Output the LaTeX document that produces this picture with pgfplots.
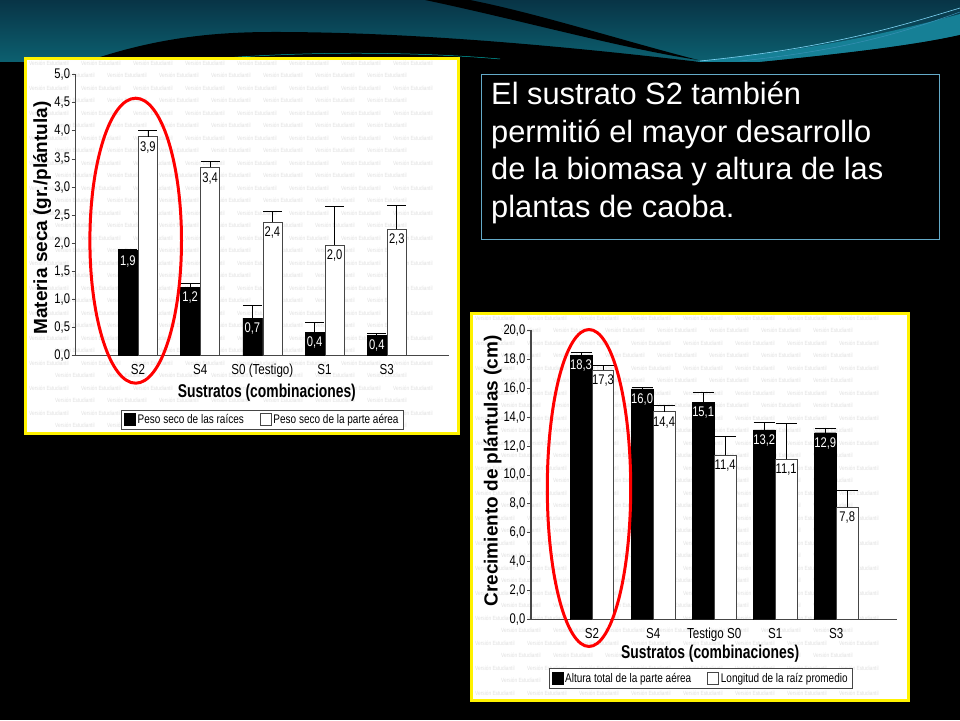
\documentclass[border=0pt]{standalone}
\usepackage{pgfplots}
\usepackage{pgfplotstable}
\pgfplotsset{compat=1.18}
\usepackage{fontspec}
\setmainfont{Liberation Sans}
\newfontfamily\cf[FakeStretch=0.8]{Liberation Sans}
\newfontfamily\cfx[FakeStretch=0.75]{Liberation Sans}
\newfontfamily\wm[FakeStretch=0.8]{Liberation Sans}

\definecolor{hdrTop}{RGB}{8,52,70}
\definecolor{hdrBot}{RGB}{12,96,112}
\definecolor{hdrBand}{RGB}{22,128,150}
\definecolor{boxc}{RGB}{100,170,200}
\definecolor{axc}{RGB}{70,70,70}

\pgfplotstableread{
x y e l
0 1.87 0.03 1,9
1 1.22 0.06 1,2
2 0.67 0.22 0,7
3 0.42 0.17 0,4
4 0.36 0.03 0,4
}\LeftRoot
\pgfplotstableread{
x y e l
0 3.90 0.10 3,9
1 3.35 0.11 3,4
2 2.38 0.19 2,4
3 1.97 0.69 2,0
4 2.25 0.43 2,3
}\LeftAerial
\pgfplotstableread{
x y e l
0 18.27 0.21 18,3
1 15.96 0.07 16,0
2 15.02 0.67 15,1
3 13.11 0.50 13,2
4 12.92 0.33 12,9
}\RightHeight
\pgfplotstableread{
x y e l
0 17.26 0.32 17,3
1 14.38 0.46 14,4
2 11.36 1.29 11,4
3 11.08 2.47 11,1
4 7.77 1.17 7,8
}\RightRoot

\pgfplotsset{
  slidechart/.style={
    scale only axis,
    ybar=1pt,
    xmin=-1, xmax=5, ymin=0,
    axis x line*=bottom, axis y line*=left,
    axis line style={axc, line width=1.1pt},
    tick align=outside,
    major tick length=4pt,
    ytick style={axc, line width=0.9pt},
    xtick style={draw=none},
    xtick={0,1,2,3,4},
    yticklabel style={font=\cf\fontsize{14}{14}\selectfont, inner sep=1.5pt,
      /pgf/number format/.cd, fixed, fixed zerofill, precision=1, use comma, assume math mode=true},
    xticklabel style={font=\cf\fontsize{14.5}{14.5}\selectfont, yshift=-1pt},
    ylabel style={anchor=center, font=\bfseries\fontsize{19}{19}\selectfont},
    xlabel style={anchor=center, font=\cfx\bfseries\fontsize{18.5}{18.5}\selectfont},
    legend columns=2,
    legend style={anchor=center, draw=axc, line width=0.6pt, fill=white,
      font=\cf\fontsize{12.5}{12.5}\selectfont, inner sep=2.5pt,
      /tikz/every even column/.append style={column sep=14pt}},
  },
  errstyle/.style={
    error bars/y dir=plus,
    error bars/y explicit,
    error bars/error bar style={black, line width=0.8pt},
    error bars/error mark options={rotate=90, black, mark size=#1, line width=0.8pt},
  },
  blackbar/.style={fill=black, draw=black,
    nodes near coords, point meta=explicit symbolic,
    nodes near coords style={anchor=north, yshift=-3pt, text=white, inner sep=1.5pt, font=\cf\fontsize{14}{14}\selectfont},
    legend image code/.code={\draw[fill=black,draw=black,line width=0.6pt] (0pt,-6pt) rectangle (11pt,6pt);}},
  whitebar/.style={fill=white, draw=axc, line width=0.7pt,
    nodes near coords, point meta=explicit symbolic,
    nodes near coords style={anchor=north, yshift=-3pt, text=black, inner sep=1.5pt, font=\cf\fontsize{14}{14}\selectfont},
    legend image code/.code={\draw[fill=white,draw=axc,line width=0.6pt] (0pt,-6pt) rectangle (11pt,6pt);}},
}

\begin{document}
\begin{tikzpicture}[x=1pt,y=1pt]
% slide background
\fill[black] (0,0) rectangle (960,720);
% header
\shade[top color=hdrTop, bottom color=hdrBot] (0,658) rectangle (960,720);
\fill[hdrBand] (690,658) .. controls (820,670) and (900,690) .. (960,706) -- (960,685) .. controls (920,676) and (860,668) .. (760,658) -- cycle;
\draw[cyan!50!white, line width=0.6pt] (700,659) .. controls (830,672) and (900,694) .. (960,712);
\draw[cyan!40!teal, line width=0.5pt] (740,659) .. controls (850,670) and (910,690) .. (960,708);
\fill[black] (85,658) .. controls (160,684) and (220,688) .. (275,688) .. controls (420,688) and (580,672) .. (700,658) -- cycle;
\fill[black] (425,720) .. controls (520,700) and (620,672) .. (698,660) .. controls (620,680) and (540,706) .. (470,720) -- cycle;
\fill[black] (760,658) .. controls (860,668) and (920,676) .. (960,685) -- (960,658) -- cycle;
\draw[teal!70!cyan, line width=0.5pt] (190,659) .. controls (300,670) and (420,668) .. (500,661);

% panels
\fill[white] (24,285) rectangle (460,663);
\fill[white] (470,18) rectangle (910,408);
\begin{scope}[every node/.style={font=\wm\fontsize{6}{6}\selectfont, text=black!12, anchor=west, inner sep=0pt}]
\foreach \r in {0,...,14}{
  \foreach \c in {0,...,7}{\node at ({29+\c*52},{657-\r*25}) {Versión Estudiantil};}
  \foreach \c in {0,...,6}{\node at ({55+\c*52},{644.5-\r*25}) {Versión Estudiantil};}
}
\foreach \r in {0,...,14}{
  \foreach \c in {0,...,7}{\node at ({475+\c*52},{402-\r*25}) {Versión Estudiantil};}
  \foreach \c in {0,...,6}{\node at ({501+\c*52},{389.5-\r*25}) {Versión Estudiantil};}
}
\foreach \c in {0,...,7}{\node at ({475+\c*52},{402-15*25}) {Versión Estudiantil};}
\end{scope}

% left chart
\begin{axis}[slidechart,
  at={(75.7pt,364.3pt)}, anchor=south west,
  width=373.3pt, height=281pt,
  ymax=5, ytick={0,0.5,1,1.5,2,2.5,3,3.5,4,4.5,5},
  bar width=19pt,
  xticklabels={S2,S4,S0 (Testigo),S1,S3},
  ylabel={Materia seca (gr./plántula)},
  xlabel={Sustratos (combinaciones)},
  ylabel style={at={(axis description cs:-0.09,0.49)}},
  xlabel style={at={(axis description cs:0.512,-0.133)}},
  legend style={at={(axis description cs:0.5,-0.228)}},
]
\addplot[blackbar, errstyle=9.5pt] table[x=x, y=y, y error=e, meta=l] {\LeftRoot};
\addlegendentry{Peso seco de las raíces}
\addplot[whitebar, errstyle=9.5pt] table[x=x, y=y, y error=e, meta=l] {\LeftAerial};
\addlegendentry{Peso seco de la parte aérea}
\end{axis}

% right chart
\begin{axis}[slidechart,
  at={(531pt,100.3pt)}, anchor=south west,
  width=366.3pt, height=289.4pt,
  ymax=20, ytick={0,2,4,6,8,10,12,14,16,18,20},
  bar width=21.5pt, ybar=0.5pt,
  xticklabels={S2,S4,Testigo S0,S1,S3},
  ylabel={Crecimiento de plántulas (cm)},
  xlabel={Sustratos (combinaciones)},
  ylabel style={at={(axis description cs:-0.105,0.514)}},
  xlabel style={at={(axis description cs:0.489,-0.1175)}},
  legend style={at={(axis description cs:0.463,-0.203)}},
]
\addplot[blackbar, errstyle=10.5pt] table[x=x, y=y, y error=e, meta=l] {\RightHeight};
\addlegendentry{Altura total de la parte aérea}
\addplot[whitebar, errstyle=10.5pt] table[x=x, y=y, y error=e, meta=l] {\RightRoot};
\addlegendentry{Longitud de la raíz promedio}
\end{axis}

% panel borders
\draw[yellow, line width=3pt] (25.5,286.5) rectangle (458.5,661.5);
\draw[yellow, line width=3pt] (471.5,19.5) rectangle (908.5,406.5);

% red highlight ellipses
\draw[red, line width=3pt] (135.7,479.3) ellipse [x radius=45.8, y radius=142.5];
\draw[red, line width=3pt] (589,232) ellipse [x radius=41.7, y radius=158.5];

% text box
\draw[boxc, line width=1pt] (481,480) rectangle (939,645);
\begin{scope}[every node/.style={anchor=base west, inner sep=0pt, text=white, font=\fontsize{30.8}{36}\selectfont}]
\node at (491,615.3) {El sustrato S2 también};
\node at (491,577.7) {permitió el mayor desarrollo};
\node at (491,540) {de la biomasa y altura de las};
\node at (491,502.7) {plantas de caoba.};
\end{scope}

\pgfresetboundingbox
\path (0,0) rectangle (960,720);
\end{tikzpicture}
\end{document}
